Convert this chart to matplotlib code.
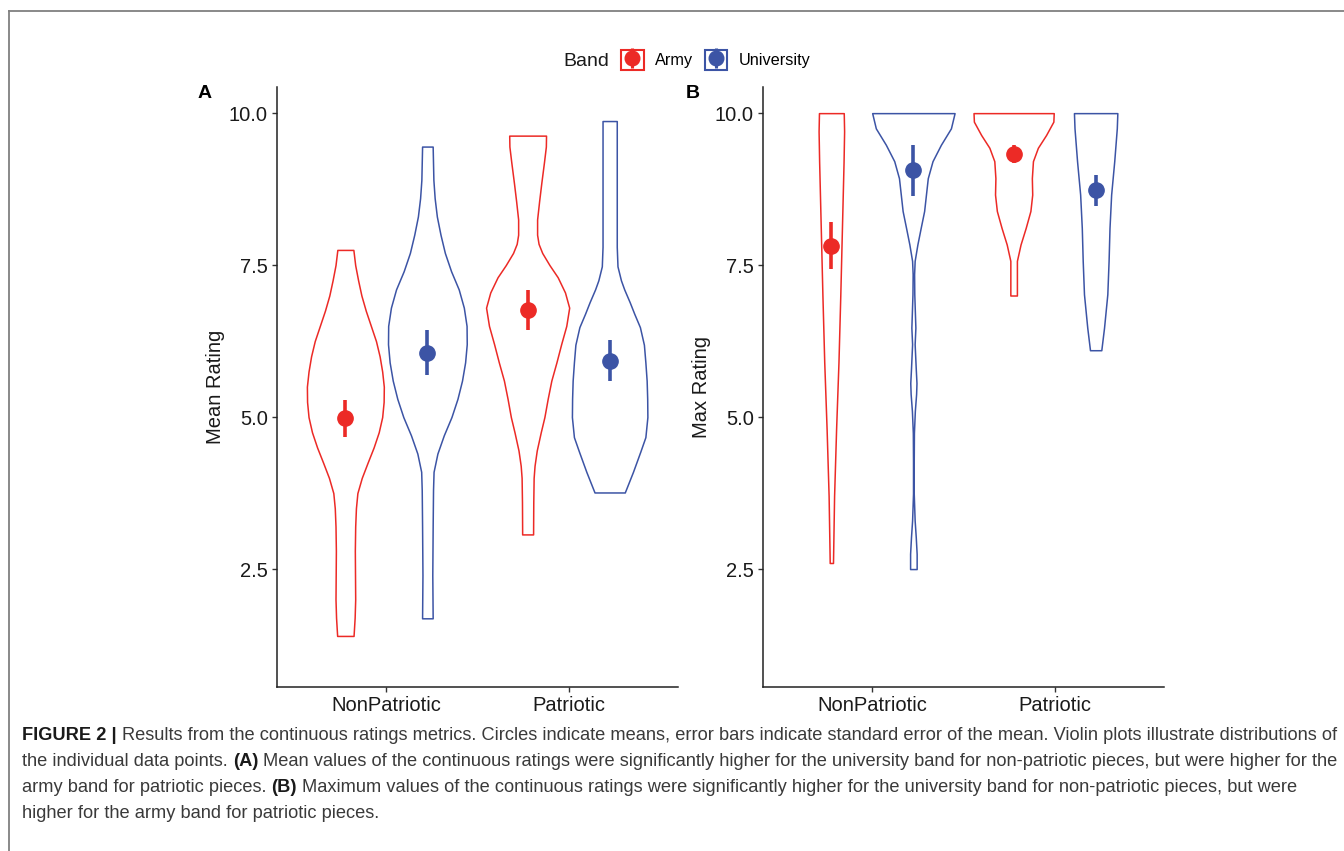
import matplotlib
matplotlib.use('Agg')
from matplotlib import pyplot as plt
from matplotlib.lines import Line2D
from matplotlib.patches import Patch
import numpy as np

plt.rcParams['font.family'] = ['Liberation Sans', 'DejaVu Sans']

army_color = '#EC2A26'
univ_color = '#3C54A5'

conditions = ['NonPatriotic', 'Patriotic']
bands = ['Army', 'University']
y_ticks = [2.5, 5.0, 7.5, 10.0]

# means and standard errors (NonPatriotic, Patriotic)
mean_army = [4.98, 6.76]
mean_army_se = [0.30, 0.33]
mean_univ = [6.06, 5.93]
mean_univ_se = [0.37, 0.33]
max_army = [7.82, 9.33]
max_army_se = [0.39, 0.15]
max_univ = [9.06, 8.73]
max_univ_se = [0.42, 0.26]

# violin outlines: rating value and half width (category units)
mean_army_np_y = [1.40, 1.7, 2.0, 2.4, 2.8, 3.2, 3.5, 3.75, 4.0, 4.25, 4.5, 4.75, 5.0, 5.25,
                  5.5, 5.75, 6.0, 6.25, 6.5, 6.75, 7.0, 7.25, 7.5, 7.75]
mean_army_np_w = [0.045, 0.051, 0.054, 0.053, 0.052, 0.054, 0.058, 0.066, 0.090, 0.122, 0.155,
                  0.183, 0.202, 0.210, 0.211, 0.202, 0.188, 0.168, 0.140, 0.112, 0.088, 0.070,
                  0.054, 0.044]
mean_univ_np_y = [1.69, 2.4, 3.2, 3.8, 4.1, 4.4, 4.7, 5.0, 5.3, 5.6, 5.9, 6.2, 6.5, 6.8, 7.1,
                  7.4, 7.7, 8.0, 8.3, 8.6, 8.9, 9.45]
mean_univ_np_w = [0.029, 0.027, 0.029, 0.031, 0.034, 0.055, 0.090, 0.132, 0.165, 0.190, 0.207,
                  0.216, 0.215, 0.200, 0.172, 0.130, 0.096, 0.072, 0.052, 0.040, 0.033, 0.029]
mean_army_p_y = [3.07, 3.6, 4.0, 4.2, 4.45, 4.75, 5.0, 5.3, 5.6, 5.9, 6.2, 6.5, 6.8, 7.05, 7.3,
                 7.5, 7.7, 7.85, 8.0, 8.25, 8.55, 8.85, 9.2, 9.45, 9.63]
mean_army_p_w = [0.030, 0.031, 0.033, 0.038, 0.050, 0.072, 0.092, 0.110, 0.130, 0.158, 0.184,
                 0.212, 0.228, 0.205, 0.165, 0.120, 0.080, 0.060, 0.052, 0.052, 0.063, 0.075,
                 0.090, 0.100, 0.101]
mean_univ_p_y = [3.76, 4.1, 4.43, 4.67, 5.0, 5.3, 5.6, 5.9, 6.19, 6.48, 6.7, 6.89, 7.1, 7.25,
                 7.48, 7.8, 8.5, 9.2, 9.87]
mean_univ_p_w = [0.083, 0.128, 0.168, 0.196, 0.207, 0.206, 0.203, 0.196, 0.188, 0.166, 0.135,
                 0.110, 0.080, 0.062, 0.043, 0.039, 0.039, 0.039, 0.039]

max_army_np_y = [2.6, 3.7, 4.8, 5.9, 7.0, 8.1, 9.2, 9.7, 10.0]
max_army_np_w = [0.009, 0.015, 0.026, 0.039, 0.049, 0.058, 0.067, 0.070, 0.068]
max_univ_np_y = [2.5, 2.75, 3.03, 3.3, 3.74, 4.28, 4.74, 5.10, 5.38, 5.56, 5.80, 6.2, 6.47,
                 7.02, 7.35, 7.57, 7.84, 8.11, 8.39, 8.66, 8.93, 9.21, 9.48, 9.75, 10.0]
max_univ_np_w = [0.018, 0.018, 0.013, 0.007, 0.002, 0.002, 0.003, 0.008, 0.015, 0.017, 0.013,
                 0.007, 0.011, 0.005, 0.004, 0.007, 0.022, 0.040, 0.059, 0.069, 0.079, 0.105,
                 0.151, 0.206, 0.226]
max_army_p_y = [7.0, 7.57, 7.84, 8.11, 8.39, 8.66, 8.93, 9.21, 9.43, 9.64, 9.86, 10.0]
max_army_p_w = [0.018, 0.018, 0.038, 0.066, 0.092, 0.102, 0.100, 0.106, 0.133, 0.178, 0.218,
                0.220]
max_univ_p_y = [6.1, 6.47, 7.02, 7.57, 8.11, 8.66, 9.21, 9.75, 10.0]
max_univ_p_w = [0.031, 0.046, 0.064, 0.071, 0.076, 0.085, 0.102, 0.116, 0.119]

W, H = 1344, 851
fig = plt.figure(figsize=(W / 100, H / 100), dpi=100)


def px_rect(left, top, right, bottom):
    return [left / W, 1 - bottom / H, (right - left) / W, (bottom - top) / H]


def draw_panel(ax, army_m, army_se, univ_m, univ_se, army_v, univ_v, ylabel):
    dodge = 0.225
    for i in range(len(conditions)):
        for (y, w), color, off in [(army_v[i], army_color, -dodge), (univ_v[i], univ_color, dodge)]:
            y = np.array(y)
            w = np.array(w)
            pos = i + 1 + off
            ax.fill_betweenx(y, pos - w, pos + w, facecolor='white', edgecolor=color, lw=1.1)
        ax.errorbar(i + 1 - dodge, army_m[i], yerr=army_se[i], fmt='o', color=army_color,
                    ms=11, elinewidth=2.6, capsize=0, zorder=5)
        ax.errorbar(i + 1 + dodge, univ_m[i], yerr=univ_se[i], fmt='o', color=univ_color,
                    ms=11, elinewidth=2.6, capsize=0, zorder=5)
    ax.set_xlim(0.4, 2.6)
    ax.set_ylim(0.56, 10.43)
    ax.set_xticks([1, 2])
    ax.set_xticklabels(conditions)
    ax.set_yticks(y_ticks)
    ax.set_yticklabels(['%.1f' % t for t in y_ticks])
    for s in ['top', 'right']:
        ax.spines[s].set_visible(False)
    for s in ['left', 'bottom']:
        ax.spines[s].set_linewidth(1.1)
        ax.spines[s].set_color('#222222')
    ax.tick_params(length=3.5, width=1, color='#333333', labelsize=14.5,
                   labelcolor='#1a1a1a', pad=3)
    ax.set_ylabel(ylabel, fontsize=14.5, color='#1a1a1a', labelpad=3)


axA = fig.add_axes(px_rect(277, 87, 678, 687))
draw_panel(axA, mean_army, mean_army_se, mean_univ, mean_univ_se,
           [(mean_army_np_y, mean_army_np_w), (mean_army_p_y, mean_army_p_w)],
           [(mean_univ_np_y, mean_univ_np_w), (mean_univ_p_y, mean_univ_p_w)],
           'Mean Rating')

axB = fig.add_axes(px_rect(763, 87, 1164, 687))
draw_panel(axB, max_army, max_army_se, max_univ, max_univ_se,
           [(max_army_np_y, max_army_np_w), (max_army_p_y, max_army_p_w)],
           [(max_univ_np_y, max_univ_np_w), (max_univ_p_y, max_univ_p_w)],
           'Max Rating')

fig.text(198 / W, 1 - 93 / H, 'A', fontsize=14, fontweight='bold', va='center', ha='left')
fig.text(686 / W, 1 - 93 / H, 'B', fontsize=14, fontweight='bold', va='center', ha='left')

# legend
fig.text(563 / W, 1 - 61 / H, 'Band', fontsize=14, va='center', ha='left', color='#1a1a1a')
handles = []
for c in [army_color, univ_color]:
    handles.append((Patch(facecolor='white', edgecolor=c, lw=1.5),
                    Line2D([], [], ls='none', marker='|', ms=15, mew=2.2, color=c),
                    Line2D([], [], ls='none', marker='o', ms=10.5, color=c)))
fig.legend(handles, bands, loc='center left', bbox_to_anchor=(621 / W, 1 - 60 / H),
           ncol=2, frameon=False, fontsize=11.7, handlelength=1.4, handleheight=1.5,
           handletextpad=0.7, columnspacing=0.7, borderpad=0, borderaxespad=0)

# frame lines of the published figure
fig.add_artist(Line2D([9 / W, 1], [1 - 11 / H, 1 - 11 / H], color='#808080', lw=1.3))
fig.add_artist(Line2D([9 / W, 9 / W], [0, 1 - 11 / H], color='#808080', lw=1.3))

# caption
caption_lines = [
    [('FIGURE 2 |', True), ('Results from the continuous ratings metrics. Circles indicate means, '
      'error bars indicate standard error of the mean. Violin plots illustrate distributions of', False)],
    [('the individual data points.', False), ('(A)', True),
     ('Mean values of the continuous ratings were significantly higher for the university band '
      'for non-patriotic pieces, but were higher for the', False)],
    [('army band for patriotic pieces.', False), ('(B)', True),
     ('Maximum values of the continuous ratings were significantly higher for the university '
      'band for non-patriotic pieces, but were', False)],
    [('higher for the army band for patriotic pieces.', False)],
]
caption_y = [736, 762, 788, 813]
cap_size = 13.15
for pieces, yp in zip(caption_lines, caption_y):
    prev = None
    for txt, bold in pieces:
        kw = dict(fontsize=cap_size, fontweight='bold' if bold else 'normal',
                  color='#1a1a1a' if bold else '#3a3a3a', va='center', ha='left')
        if prev is None:
            prev = fig.text(22 / W, 1 - yp / H, txt, **kw)
        else:
            prev = axA.annotate(txt, xy=(1, 0.5), xycoords=prev, xytext=(cap_size * 0.28, 0),
                                textcoords='offset points', annotation_clip=False, **kw)

fig.savefig('out.png', dpi=100)
